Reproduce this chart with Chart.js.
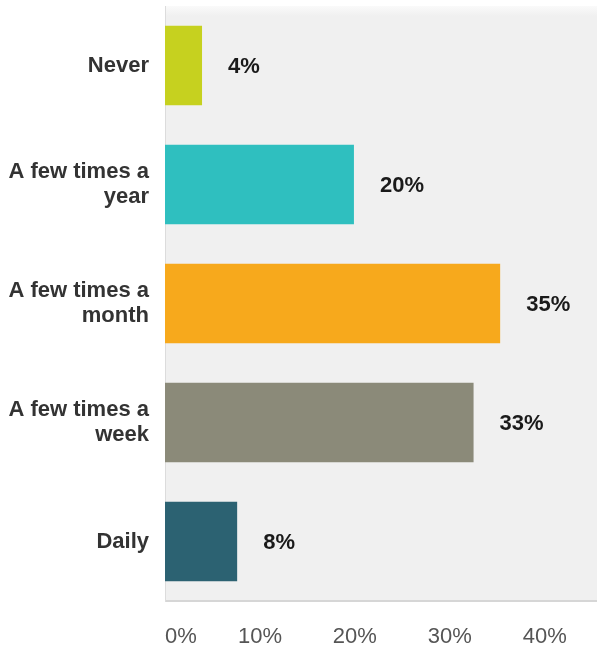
<!DOCTYPE html>
<html>
<head>
<meta charset="utf-8">
<script src="https://cdn.jsdelivr.net/npm/chart.js@4/dist/chart.umd.min.js"></script>
<style>
  html, body { margin: 0; padding: 0; background: #fff; }
  #wrap { width: 597px; height: 652px; position: relative; }
</style>
</head>
<body>
<div id="wrap"><canvas id="chart"></canvas></div>
<script>
// 数据
const categories = [['Never'], ['A few times a', 'year'], ['A few times a', 'month'], ['A few times a', 'week'], ['Daily']];
const values = [3.9, 19.9, 35.3, 32.5, 7.6];
const valueLabels = ['4%', '20%', '35%', '33%', '8%'];
const barColors = ['#c6d11f', '#2fbfbf', '#f7a91c', '#8b8a79', '#2c6272'];
const tickValues = [0, 10, 20, 30, 40];
const tickLabels = ['0%', '10%', '20%', '30%', '40%'];

const FONT = '"Liberation Sans", Arial, sans-serif';

// 绘图区背景 + 底线
const plotBg = {
  id: 'plotBg',
  beforeDraw(chart) {
    const { ctx, chartArea: a } = chart;
    ctx.save();
    const g = ctx.createLinearGradient(0, a.top, 0, a.top + 10);
    g.addColorStop(0, '#fafafa');
    g.addColorStop(1, '#f0f0f0');
    ctx.fillStyle = g;
    ctx.fillRect(a.left, a.top, a.right - a.left, a.bottom - a.top);
    ctx.strokeStyle = '#d6d6d6';
    ctx.lineWidth = 2;
    ctx.beginPath();
    ctx.moveTo(a.left, a.bottom);
    ctx.lineTo(a.right, a.bottom);
    ctx.stroke();
    ctx.restore();
  }
};

// 数值标签 + x 轴刻度
const labelsPlugin = {
  id: 'labelsPlugin',
  afterDatasetsDraw(chart) {
    const { ctx, chartArea: a } = chart;
    const meta = chart.getDatasetMeta(0);
    ctx.save();
    ctx.font = 'bold 22px ' + FONT;
    ctx.fillStyle = '#1a1a1a';
    ctx.textAlign = 'left';
    ctx.textBaseline = 'middle';
    meta.data.forEach((bar, i) => {
      ctx.fillText(valueLabels[i], bar.x + 26, bar.y + 1);
    });

    const xs = chart.scales.x;
    ctx.font = '22px ' + FONT;
    ctx.fillStyle = '#555';
    tickValues.forEach((v, i) => {
      const px = xs.getPixelForValue(v);
      ctx.textAlign = i === 0 ? 'left' : 'center';
      ctx.fillText(tickLabels[i], px, a.bottom + 36);
    });
    ctx.restore();
  }
};

new Chart(document.getElementById('chart'), {
  type: 'bar',
  data: {
    labels: categories,
    datasets: [{
      data: values,
      backgroundColor: barColors,
      borderWidth: 0,
      barPercentage: 0.67,
      categoryPercentage: 1
    }]
  },
  options: {
    indexAxis: 'y',
    responsive: true,
    maintainAspectRatio: false,
    animation: false,
    layout: { padding: { top: 6, bottom: 51, left: 0, right: 0 } },
    plugins: { legend: { display: false }, tooltip: { enabled: false } },
    scales: {
      x: {
        display: false,
        min: 0,
        max: 45.5
      },
      y: {
        grid: { display: false },
        border: { color: '#dcdcdc', width: 1 },
        afterFit(scale) {
          scale.width = 165;
          scale.paddingTop = 0;
          scale.paddingBottom = 0;
        },
        ticks: {
          color: '#333',
          padding: 8,
          font: { family: FONT, size: 22, weight: 'bold', lineHeight: 1.15 }
        }
      }
    }
  },
  plugins: [plotBg, labelsPlugin]
});
</script>
</body>
</html>
